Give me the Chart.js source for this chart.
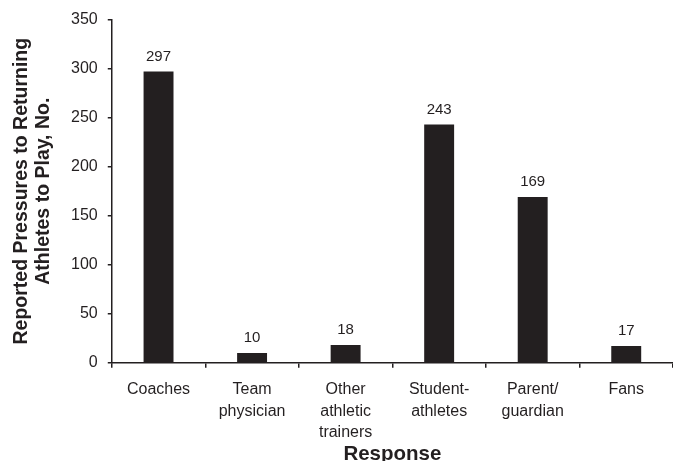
<!DOCTYPE html>
<html>
<head>
<meta charset="utf-8">
<script src="https://cdn.jsdelivr.net/npm/chart.js@4.4.1/dist/chart.umd.min.js"></script>
<style>
  html, body { margin: 0; padding: 0; background: #fff; }
  #wrap { width: 673px; height: 461px; }
</style>
</head>
<body>
<div id="wrap"><canvas id="chart" width="673" height="461"></canvas></div>
<script>
// Who pressured athletic trainers to return athletes to play
const categories = [
  ["Coaches"],
  ["Team", "physician"],
  ["Other", "athletic", "trainers"],
  ["Student-", "athletes"],
  ["Parent/", "guardian"],
  ["Fans"]
];
const counts = [297, 10, 18, 243, 169, 17];
const yTicks = [0, 50, 100, 150, 200, 250, 300, 350];

const INK = '#231f20';
const FONT = "'Liberation Sans', Arial, sans-serif";

// Writes each bar's count just above it
const valueLabels = {
  id: 'valueLabels',
  afterDatasetsDraw(chart) {
    const ctx = chart.ctx;
    const meta = chart.getDatasetMeta(0);
    ctx.save();
    ctx.fillStyle = INK;
    ctx.font = "15px " + FONT;
    ctx.textAlign = 'center';
    ctx.textBaseline = 'middle';
    meta.data.forEach((bar, i) => {
      ctx.fillText(String(counts[i]), bar.x, bar.y - 15);
    });
    ctx.restore();
  }
};

new Chart(document.getElementById('chart'), {
  type: 'bar',
  data: {
    labels: categories,
    datasets: [{
      data: counts,
      backgroundColor: INK,
      borderWidth: 0,
      categoryPercentage: 1,
      barPercentage: 0.32
    }]
  },
  options: {
    responsive: false,
    animation: false,
    layout: { padding: { left: 11, right: 0, top: 13, bottom: 0 } },
    plugins: {
      legend: { display: false },
      tooltip: { enabled: false }
    },
    scales: {
      x: {
        grid: {
          display: true,
          offset: true,
          drawOnChartArea: false,
          drawTicks: true,
          tickLength: 5,
          color: INK,
          lineWidth: 1.5
        },
        border: { display: true, color: INK, width: 1.5 },
        ticks: {
          color: INK,
          font: { family: FONT, size: 16, lineHeight: 1.35 },
          padding: 11,
          maxRotation: 0,
          autoSkip: false
        },
        title: {
          display: true,
          text: 'Response',
          color: INK,
          font: { family: FONT, size: 20.5, weight: 'bold', lineHeight: 0.9 },
          padding: { top: -9, bottom: -3 }
        }
      },
      y: {
        min: 0,
        max: 350,
        afterBuildTicks(scale) {
          scale.ticks = yTicks.map(v => ({ value: v }));
        },
        grid: {
          display: true,
          drawOnChartArea: false,
          drawTicks: true,
          tickLength: 4,
          color: INK,
          lineWidth: 1.5
        },
        border: { display: true, color: INK, width: 1.5 },
        ticks: {
          color: INK,
          font: { family: FONT, size: 16 },
          padding: 10
        },
        title: {
          display: true,
          text: ["Reported Pressures to Returning", "Athletes to Play, No."],
          color: INK,
          font: { family: FONT, size: 19.5, weight: 'bold', lineHeight: 1.13 },
          padding: { top: 0, bottom: 6 }
        }
      }
    }
  },
  plugins: [valueLabels]
});
</script>
</body>
</html>
